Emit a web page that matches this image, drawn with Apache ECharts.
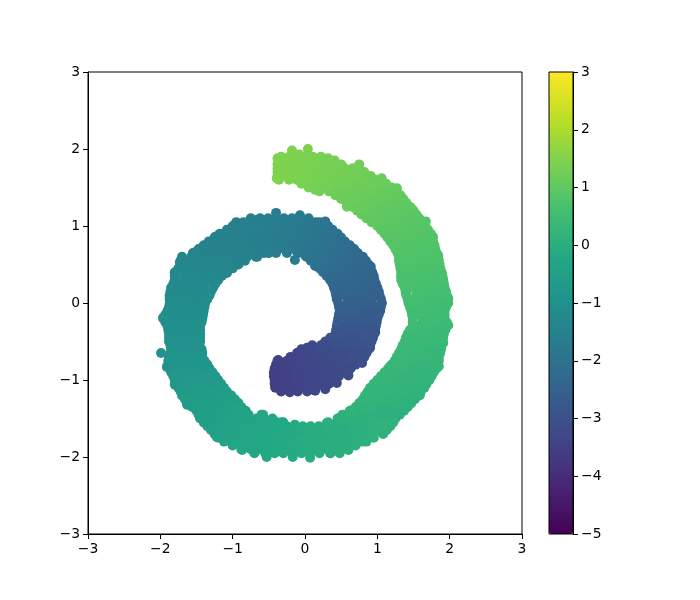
<!DOCTYPE html>
<html><head><meta charset="utf-8">
<style>html,body{margin:0;background:#fff}#c{width:700px;height:600px}</style>
<script src="https://cdn.jsdelivr.net/npm/echarts@6/dist/echarts.min.js"></script></head>
<body><div id="c"></div><script>
const rowY=[1.9,1.8,1.7,1.6,1.5,1.4,1.3,1.2,1.1,1.0,0.9,0.8,0.7,0.6,0.5,0.4,0.3,0.2,0.1,0,-0.1,-0.2,-0.3,-0.4,-0.5,-0.6,-0.7,-0.8,-0.9,-1.0,-1.1,-1.2,-1.3,-1.4,-1.5,-1.6,-1.7,-1.8,-1.9];
const rowX=[
[-.33,-.22,-.11,0,.11,.22],
[-.38,-.27,-.16,-.05,.06,.17,.28,.39,.5],
[-.38,-.28,-.17,-.06,.05,.16,.27,.38,.49,.6,.71,.82],
[-.36,-.22,-.11,0,.11,.22,.33,.44,.55,.66,.77,.88,.99,1.05],
[.05,.16,.27,.38,.49,.6,.71,.82,.93,1.04,1.15,1.2],
[.42,.55,.66,.77,.88,.99,1.1,1.21,1.32],
[.58,.66,.77,.88,.99,1.1,1.21,1.32,1.4],
[.72,.83,.94,1.05,1.16,1.27,1.38,1.5],
[-.75,-.62,-.51,-.4,-.29,-.18,-.07,.05, .85,.94,1.05,1.16,1.27,1.38,1.49,1.58],
[-1,-.89,-.78,-.67,-.56,-.45,-.34,-.23,-.12,-.01,.1,.21,.32, 1,1.1,1.21,1.32,1.43,1.54,1.66],
[-1.18,-1.07,-.96,-.85,-.74,-.63,-.52,-.41,-.3,-.19,-.08,.03,.14,.25,.36,.45, 1.1,1.21,1.32,1.43,1.54,1.65,1.74],
[-1.33,-1.22,-1.11,-1,-.89,-.78,-.67,-.56,-.45,-.34,-.23,-.12,-.01,.1,.21,.32,.43,.55, 1.18,1.27,1.38,1.49,1.6,1.71,1.77],
[-1.47,-1.36,-1.25,-1.14,-1.03,-.92,-.81,-.7,-.59,-.48,-.37,-.26,-.15,-.04,.07,.18,.29,.4,.51,.62,.68, 1.25,1.32,1.43,1.54,1.65,1.76,1.8],
[-1.7,-1.57,-1.46,-1.35,-1.24,-1.13,-1.02,-.91,-.8,-.68, .02,.13,.24,.35,.46,.57,.68,.8, 1.3,1.38,1.49,1.6,1.71,1.84],
[-1.72,-1.62,-1.51,-1.4,-1.29,-1.18,-1.07,-.92, .14,.26,.37,.48,.59,.7,.81,.88, 1.31,1.43,1.54,1.65,1.76,1.86],
[-1.8,-1.69,-1.58,-1.47,-1.36,-1.25,-1.08, .25,.36,.47,.58,.69,.8,.93, 1.33,1.44,1.55,1.66,1.77,1.89],
[-1.8,-1.68,-1.57,-1.46,-1.35,-1.2, .35,.42,.53,.64,.75,.86,.96, 1.33,1.43,1.54,1.65,1.76,1.87,1.91],
[-1.85,-1.74,-1.63,-1.52,-1.41,-1.27, .4,.48,.59,.7,.81,.92,1, 1.38,1.49,1.6,1.71,1.82,1.93],
[-1.87,-1.79,-1.68,-1.57,-1.46,-1.32, .43,.54,.65,.76,.87,.98,1.03, 1.4,1.54,1.65,1.76,1.87,1.96],
[-1.87,-1.75,-1.64,-1.53,-1.38, .46,.59,.7,.81,.92,1.06, 1.43,1.54,1.65,1.76,1.87,1.98],
[-1.9,-1.77,-1.66,-1.55,-1.4, .48,.54,.65,.76,.87,.98,1.04, 1.47,1.58,1.69,1.8,1.93],
[-1.96,-1.84,-1.73,-1.62,-1.51,-1.42, .46,.59,.7,.81,.92,1, 1.49,1.63,1.74,1.85,1.93],
[-1.9,-1.77,-1.66,-1.55,-1.45, .44,.54,.65,.76,.87,.98, 1.49,1.58,1.69,1.8,1.96],
[-1.88,-1.79,-1.68,-1.57,-1.45, .42,.53,.64,.75,.86,.96, 1.42,1.53,1.64,1.75,1.86,1.92],
[-1.88,-1.77,-1.66,-1.55,-1.45, .28,.4,.51,.62,.73,.84,.92, 1.38,1.48,1.59,1.7,1.81,1.9],
[-1.85,-1.74,-1.63,-1.52,-1.43, -.05,.05,.16,.27,.38,.49,.6,.71,.8,.88, 1.33,1.43,1.54,1.65,1.76,1.88],
[-1.88,-1.79,-1.68,-1.57,-1.42, -.2,-.09,.02,.13,.24,.35,.46,.57,.68,.82, 1.27,1.38,1.49,1.6,1.71,1.85],
[-1.88,-1.77,-1.66,-1.55,-1.44,-1.35, -.4,-.3,-.19,-.08,.03,.14,.25,.36,.47,.58,.7, 1.2,1.32,1.43,1.54,1.65,1.76,1.84],
[-1.85,-1.74,-1.63,-1.52,-1.41,-1.28, -.43,-.33,-.22,-.11,0,.11,.22,.33,.44,.55, 1.1,1.21,1.32,1.43,1.54,1.65,1.78],
[-1.8,-1.69,-1.58,-1.47,-1.36,-1.25,-1.2, -.42,-.28,-.17,-.06,.05,.16,.27,.38, 1,1.15,1.26,1.37,1.48,1.59,1.72],
[-1.75,-1.63,-1.52,-1.41,-1.3,-1.19,-1.12, -.41,-.33,-.22,-.11,0,.15, .9,1,1.1,1.21,1.32,1.43,1.54,1.65],
[-1.7,-1.58,-1.47,-1.36,-1.25,-1.14,-1.02, .83,.94,1.05,1.16,1.27,1.38,1.49,1.58],
[-1.63,-1.52,-1.41,-1.3,-1.19,-1.08,-.97,-.92, .75,.88,.99,1.1,1.21,1.32,1.47],
[-1.5,-1.39,-1.28,-1.17,-1.06,-.95,-.82, .62,.72,.83,.94,1.05,1.16,1.27,1.37],
[-1.45,-1.33,-1.22,-1.11,-1,-.89,-.78,-.67,-.56,-.45, .45,.55,.66,.77,.88,.99,1.1,1.25],
[-1.35,-1.24,-1.13,-1.02,-.91,-.8,-.69,-.58,-.47,-.36,-.25,-.14,-.03,.08,.19,.3,.41,.52,.63,.74,.85,.96,1.07,1.18],
[-1.25,-1.14,-1.03,-.92,-.81,-.7,-.59,-.48,-.37,-.26,-.15,-.04,.07,.18,.29,.4,.51,.62,.73,.84,.95,1.08],
[-1.12,-1.02,-.91,-.8,-.69,-.58,-.47,-.36,-.25,-.14,-.03,.08,.19,.3,.41,.52,.63,.74,.85],
[-.88,-.75,-.64,-.53,-.42,-.31,-.2,-.09,.02,.13,.24,.35,.46,.6]
];
const rowC=[
[1.45,1.45,1.42,1.4,1.38,1.36],
[1.46,1.45,1.43,1.42,1.4,1.38,1.36,1.34,1.32],
[1.46,1.45,1.43,1.41,1.39,1.37,1.35,1.33,1.31,1.29,1.27,1.25],
[1.44,1.42,1.4,1.38,1.36,1.34,1.32,1.3,1.28,1.26,1.24,1.22,1.2,1.18],
[1.34,1.32,1.3,1.28,1.26,1.24,1.22,1.2,1.18,1.16,1.14,1.12],
[1.22,1.2,1.18,1.16,1.14,1.12,1.1,1.08,1.06],
[1.16,1.15,1.13,1.11,1.09,1.07,1.05,1.03,1.01],
[1.1,1.08,1.06,1.04,1.02,1,.98,.96],
[-1.55,-1.58,-1.61,-1.64,-1.67,-1.7,-1.73,-1.76, 1.04,1.03,1.01,.99,.97,.95,.93,.91],
[-1.5,-1.52,-1.54,-1.57,-1.6,-1.63,-1.66,-1.69,-1.72,-1.76,-1.8,-1.85,-1.9, .98,.96,.94,.92,.9,.88,.86],
[-1.48,-1.5,-1.52,-1.54,-1.56,-1.59,-1.62,-1.65,-1.68,-1.72,-1.76,-1.8,-1.85,-1.9,-1.96,-2, .92,.9,.88,.86,.84,.83,.82],
[-1.48,-1.5,-1.51,-1.53,-1.55,-1.56,-1.58,-1.61,-1.64,-1.68,-1.72,-1.76,-1.81,-1.86,-1.92,-1.98,-2.04,-2.1, .87,.85,.83,.82,.81,.8,.79],
[-1.52,-1.52,-1.53,-1.54,-1.54,-1.55,-1.55,-1.56,-1.6,-1.64,-1.68,-1.72,-1.77,-1.82,-1.88,-1.95,-2,-2.08,-2.15,-2.2,-2.25, .83,.82,.8,.79,.78,.77,.76],
[-1.36,-1.37,-1.38,-1.39,-1.4,-1.42,-1.44,-1.46,-1.48,-1.5, -1.85,-1.92,-2,-2.06,-2.12,-2.18,-2.24,-2.28, .8,.78,.77,.76,.75,.74],
[-1.32,-1.33,-1.34,-1.35,-1.36,-1.37,-1.38,-1.42, -2,-2.06,-2.12,-2.18,-2.24,-2.28,-2.32,-2.35, .76,.74,.73,.72,.71,.7],
[-1.28,-1.29,-1.3,-1.3,-1.31,-1.32,-1.34, -2.12,-2.18,-2.24,-2.28,-2.33,-2.37,-2.4, .72,.71,.7,.69,.68,.67],
[-1.25,-1.26,-1.26,-1.27,-1.28,-1.29, -2.24,-2.27,-2.31,-2.35,-2.38,-2.42,-2.45, .69,.68,.67,.66,.65,.64,.64],
[-1.22,-1.22,-1.23,-1.23,-1.24,-1.25, -2.34,-2.36,-2.39,-2.42,-2.45,-2.48,-2.5, .65,.64,.63,.62,.61,.6],
[-1.18,-1.18,-1.19,-1.19,-1.2,-1.21, -2.42,-2.44,-2.46,-2.49,-2.51,-2.53,-2.55, .61,.6,.59,.58,.57,.56],
[-1.15,-1.15,-1.16,-1.16,-1.17, -2.5,-2.52,-2.54,-2.56,-2.58,-2.6, .58,.57,.56,.55,.54,.53],
[-1.12,-1.12,-1.13,-1.13,-1.14, -2.58,-2.6,-2.61,-2.63,-2.64,-2.65,-2.66, .54,.53,.52,.51,.5],
[-1.08,-1.08,-1.09,-1.09,-1.1,-1.1, -2.68,-2.7,-2.71,-2.72,-2.73,-2.74, .5,.5,.49,.48,.47],
[-1.05,-1.05,-1.06,-1.06,-1.07, -2.78,-2.78,-2.79,-2.8,-2.8,-2.81, .47,.46,.45,.44,.43],
[-1.02,-1.02,-1.03,-1.03,-1.04, -2.88,-2.88,-2.88,-2.88,-2.88,-2.88, .43,.42,.41,.4,.39,.39],
[-.98,-.98,-.99,-.99,-1, -3.02,-3,-2.99,-2.98,-2.97,-2.96,-2.95, .4,.39,.38,.37,.36,.35],
[-.94,-.94,-.95,-.95,-.96, -3.28,-3.24,-3.2,-3.15,-3.11,-3.08,-3.05,-3.03,-3.01,-3, .37,.36,.35,.34,.33,.32],
[-.9,-.9,-.91,-.91,-.92, -3.4,-3.35,-3.31,-3.26,-3.22,-3.18,-3.15,-3.11,-3.08,-3.05, .34,.33,.32,.31,.3,.29],
[-.85,-.85,-.86,-.86,-.87,-.87, -3.5,-3.46,-3.42,-3.38,-3.33,-3.29,-3.25,-3.22,-3.18,-3.15,-3.12, .31,.3,.29,.28,.27,.26,.25],
[-.8,-.8,-.8,-.8,-.81,-.81, -3.52,-3.48,-3.44,-3.4,-3.36,-3.32,-3.28,-3.24,-3.21,-3.18, .3,.28,.26,.25,.24,.23,.22],
[-.74,-.74,-.73,-.72,-.72,-.72,-.72, -3.52,-3.47,-3.43,-3.39,-3.35,-3.31,-3.28,-3.25, .27,.25,.24,.22,.21,.2,.19],
[-.68,-.67,-.66,-.65,-.64,-.63,-.62, -3.52,-3.49,-3.45,-3.41,-3.37,-3.33, .25,.24,.22,.21,.19,.18,.17,.16],
[-.64,-.62,-.6,-.59,-.58,-.56,-.54, .22,.21,.2,.18,.17,.16,.15,.14],
[-.6,-.58,-.56,-.54,-.52,-.5,-.48,-.46, .19,.18,.17,.16,.14,.13,.12],
[-.56,-.54,-.52,-.49,-.46,-.43,-.4, .15,.14,.13,.12,.11,.1,.09,.08],
[-.55,-.5,-.46,-.43,-.39,-.36,-.33,-.3,-.27,-.25, .1,.09,.08,.07,.06,.05,.04,.03],
[-.5,-.46,-.42,-.38,-.34,-.3,-.27,-.24,-.21,-.18,-.16,-.13,-.1,-.07,-.05,-.03,-.01,.01,.04,.06,.09,.12,.15,.17],
[-.42,-.39,-.36,-.33,-.3,-.27,-.24,-.21,-.18,-.16,-.13,-.1,-.07,-.05,-.03,-.01,.01,.03,.06,.08,.1,.13],
[-.36,-.33,-.3,-.27,-.24,-.21,-.19,-.16,-.14,-.12,-.09,-.06,-.04,-.02,0,.02,.04,.06,.08],
[-.27,-.24,-.22,-.19,-.17,-.15,-.12,-.1,-.07,-.05,-.02,0,.02,.04]
];
const midY=[1.85,1.75,1.65,1.55,1.45,1.35,1.25,1.15,1.05,.95,.85,.75,.65,.55,.45,.35,.25,.15,.05,-.05,-.15,-.25,-.35,-.45,-.55,-.65,-.75,-.85,-.95,-1.05,-1.15,-1.25,-1.35,-1.45,-1.55,-1.65,-1.75,-1.85,-1.95];
const midX=[
[-.36,-.25,-.14,-.03,.08,.19,.3,.41],
[-.38,-.22,-.11,0,.11,.22,.33,.44,.55,.66],
[-.38,-.3,-.19,-.08,.03,.14,.25,.36,.47,.58,.69,.8,.91],
[-.05,.05,.16,.27,.38,.49,.6,.71,.82,.93,1.04,1.12],
[.2,.33,.44,.55,.66,.77,.88,.99,1.1,1.21,1.27],
[.5,.6,.71,.82,.93,1.04,1.15,1.26,1.36],
[.65,.72,.83,.94,1.05,1.16,1.27,1.38,1.45],
[.78,.88,.99,1.1,1.21,1.32,1.43,1.54],
[-.85,-.73,-.62,-.51,-.4,-.29,-.18,-.07,.04,.15,.2, .92,1.05,1.16,1.27,1.38,1.49,1.62],
[-1.08,-.95,-.84,-.73,-.62,-.51,-.4,-.29,-.18,-.07,.04,.15,.26,.38, 1.05,1.16,1.27,1.38,1.49,1.6,1.7],
[-1.25,-1.16,-1.05,-.94,-.83,-.72,-.61,-.5,-.39,-.28,-.17,-.06,.05,.16,.27,.38,.5, 1.14,1.23,1.34,1.45,1.56,1.67,1.76],
[-1.4,-1.28,-1.17,-1.06,-.95,-.84,-.73,-.62,-.51,-.4,-.29,-.18,-.07,.04,.15,.26,.37,.48,.62, 1.22,1.32,1.43,1.54,1.65,1.79],
[-1.55,-1.45,-1.34,-1.23,-1.12,-1.01,-.9,-.79,-.68,-.57,-.5,-.4,-.25,-.1, .05,.16,.27,.38,.49,.6,.73, 1.28,1.37,1.48,1.59,1.7,1.82],
[-1.72,-1.6,-1.49,-1.38,-1.27,-1.16,-1.05,-.94,-.83, .08,.2,.31,.42,.53,.64,.75,.84, 1.3,1.43,1.54,1.65,1.76,1.85],
[-1.75,-1.64,-1.53,-1.42,-1.31,-1.2,-1.09,-1, .2,.31,.42,.53,.64,.75,.9, 1.32,1.38,1.49,1.6,1.71,1.87],
[-1.8,-1.63,-1.52,-1.41,-1.3,-1.15, .3,.42,.53,.64,.75,.86,.95, 1.33,1.49,1.6,1.71,1.82,1.9],
[-1.82,-1.72,-1.61,-1.5,-1.39,-1.24, .38,.48,.59,.7,.81,.92,.98, 1.35,1.49,1.6,1.71,1.82,1.92],
[-1.86,-1.74,-1.63,-1.52,-1.41,-1.3, .42,.54,.65,.76,.87,.98,1.02, 1.39,1.54,1.65,1.76,1.87,1.95],
[-1.87,-1.78,-1.68,-1.57,-1.46,-1.35, .44,.59,.7,.81,.92,1.05, 1.42,1.49,1.6,1.71,1.82,1.93],
[-1.88,-1.8,-1.7,-1.59,-1.48,-1.39, .47,.56,.65,.76,.87,.98,1.05, 1.45,1.54,1.65,1.76,1.87,1.95],
[-1.93,-1.82,-1.71,-1.6,-1.49,-1.41, .47,.59,.7,.81,.92,1.02, 1.48,1.54,1.65,1.76,1.87,1.93],
[-1.93,-1.84,-1.73,-1.62,-1.51,-1.43, .45,.59,.7,.81,.92,.99, 1.49,1.63,1.74,1.85,1.96],
[-1.89,-1.8,-1.73,-1.62,-1.51,-1.45, .43,.59,.7,.81,.92,.97, 1.45,1.58,1.69,1.8,1.91,1.94],
[-1.88,-1.8,-1.72,-1.61,-1.5,-1.45, .35,.47,.58,.69,.8,.91,.94, 1.4,1.48,1.59,1.7,1.81,1.91],
[-1.86,-1.79,-1.68,-1.57,-1.46, .1,.22,.33,.44,.56,.67,.78,.9, 1.35,1.43,1.53,1.64,1.75,1.86,1.89],
[-1.86,-1.77,-1.68,-1.57,-1.46,-1.42, -.1,0,.11,.22,.33,.44,.55,.66,.77,.85, 1.3,1.38,1.49,1.6,1.71,1.78,1.87],
[-1.89,-1.8,-1.72,-1.61,-1.5,-1.39, -.38,-.25,-.14,-.03,.08,.19,.3,.41,.52,.63,.76, 1.24,1.32,1.43,1.54,1.65,1.76,1.85],
[-1.87,-1.78,-1.69,-1.58,-1.47,-1.32, -.42,-.27,-.16,-.05,.06,.17,.28,.39,.5,.63, 1.15,1.27,1.38,1.49,1.6,1.71,1.82],
[-1.82,-1.69,-1.58,-1.47,-1.36,-1.24, -.43,-.33,-.22,-.11,0,.11,.22,.33,.47, 1.05,1.21,1.32,1.43,1.54,1.65,1.75],
[-1.78,-1.63,-1.52,-1.41,-1.3,-1.16, -.42,-.33,-.22,-.11,0,.11,.22,.33, .95,1.1,1.21,1.32,1.43,1.54,1.68],
[-1.72,-1.62,-1.52,-1.41,-1.3,-1.19,-1.08, -.33,-.1,.03, .87,.94,1.05,1.16,1.27,1.38,1.49,1.6],
[-1.66,-1.52,-1.41,-1.3,-1.19,-1.08,-.97, .8,.88,.99,1.1,1.21,1.32,1.43,1.52],
[-1.56,-1.46,-1.35,-1.24,-1.13,-1.02,-.88, .7,.83,.94,1.05,1.16,1.27,1.42],
[-1.47,-1.33,-1.22,-1.11,-1,-.89,-.78,-.6, .52,.66,.77,.88,.99,1.1,1.2,1.31],
[-1.4,-1.27,-1.16,-1.05,-.94,-.83,-.72,-.61,-.5,-.39,-.3, .32,.44,.55,.66,.77,.88,.99,1.1,1.22],
[-1.3,-1.19,-1.08,-.97,-.86,-.75,-.64,-.53,-.42,-.31,-.2,-.09,.02,.13,.24,.35,.46,.57,.68,.79,.9,1.01,1.12],
[-1.2,-1.08,-.97,-.86,-.75,-.64,-.53,-.42,-.31,-.2,-.09,.02,.13,.24,.35,.46,.57,.68,.79,.95],
[-1,-.86,-.75,-.64,-.53,-.42,-.31,-.2,-.09,.02,.13,.24,.35,.46,.57,.7],
[-.7,-.55,-.42,-.3,-.17,-.05,.07,.2,.35,.48]
];
const midC=[
[1.46,1.45,1.43,1.41,1.39,1.37,1.35,1.33],
[1.46,1.44,1.42,1.4,1.38,1.36,1.34,1.32,1.3,1.28],
[1.46,1.45,1.43,1.41,1.39,1.37,1.35,1.33,1.31,1.29,1.27,1.25,1.22],
[1.38,1.36,1.34,1.32,1.3,1.28,1.26,1.24,1.22,1.2,1.18,1.16],
[1.28,1.26,1.24,1.22,1.2,1.18,1.16,1.14,1.12,1.1,1.08],
[1.2,1.18,1.16,1.14,1.12,1.1,1.08,1.06,1.04],
[1.14,1.12,1.1,1.08,1.06,1.04,1.02,1,.98],
[1.07,1.05,1.03,1.01,.99,.97,.95,.93],
[-1.5,-1.55,-1.58,-1.61,-1.64,-1.67,-1.7,-1.74,-1.78,-1.82,-1.84, 1.01,.99,.97,.95,.93,.91,.89],
[-1.48,-1.5,-1.53,-1.56,-1.59,-1.62,-1.65,-1.68,-1.72,-1.76,-1.8,-1.85,-1.9,-1.96, .95,.93,.91,.89,.87,.85,.84],
[-1.47,-1.49,-1.51,-1.53,-1.55,-1.57,-1.6,-1.63,-1.66,-1.7,-1.74,-1.78,-1.83,-1.88,-1.94,-2,-2.06, .9,.88,.86,.85,.83,.82,.8],
[-1.46,-1.48,-1.5,-1.52,-1.54,-1.55,-1.57,-1.6,-1.63,-1.67,-1.71,-1.75,-1.8,-1.85,-1.91,-1.97,-2.04,-2.1,-2.18, .85,.84,.82,.81,.8,.78],
[-1.42,-1.44,-1.45,-1.46,-1.47,-1.48,-1.5,-1.52,-1.54,-1.57,-1.58,-1.62,-1.68,-1.76, -1.88,-1.94,-2,-2.06,-2.12,-2.18,-2.24, .82,.8,.78,.77,.76,.75],
[-1.34,-1.35,-1.36,-1.38,-1.39,-1.4,-1.42,-1.44,-1.46, -1.93,-2,-2.06,-2.12,-2.18,-2.24,-2.28,-2.32, .78,.76,.75,.74,.73,.72],
[-1.3,-1.31,-1.32,-1.33,-1.34,-1.35,-1.36,-1.38, -2.06,-2.12,-2.18,-2.24,-2.3,-2.34,-2.38, .74,.73,.72,.71,.7,.68],
[-1.27,-1.28,-1.28,-1.29,-1.3,-1.31, -2.18,-2.22,-2.27,-2.31,-2.35,-2.39,-2.43, .7,.69,.68,.67,.66,.65],
[-1.24,-1.24,-1.25,-1.25,-1.26,-1.26, -2.28,-2.31,-2.34,-2.37,-2.4,-2.44,-2.46, .67,.66,.65,.64,.63,.62],
[-1.2,-1.2,-1.2,-1.21,-1.21,-1.22, -2.38,-2.4,-2.42,-2.45,-2.48,-2.5,-2.52, .63,.62,.61,.6,.59,.58],
[-1.17,-1.17,-1.17,-1.18,-1.18,-1.19, -2.46,-2.48,-2.5,-2.52,-2.55,-2.57, .6,.59,.58,.57,.56,.55],
[-1.13,-1.13,-1.14,-1.14,-1.15,-1.15, -2.55,-2.56,-2.57,-2.59,-2.6,-2.62,-2.63, .56,.55,.54,.53,.52,.51],
[-1.09,-1.09,-1.1,-1.1,-1.11,-1.11, -2.63,-2.65,-2.67,-2.68,-2.69,-2.7, .52,.51,.5,.49,.48,.48],
[-1.06,-1.06,-1.07,-1.07,-1.08,-1.08, -2.73,-2.75,-2.76,-2.76,-2.77,-2.77, .48,.47,.46,.45,.44],
[-1.03,-1.03,-1.04,-1.04,-1.05,-1.05, -2.83,-2.83,-2.83,-2.83,-2.83,-2.83, .45,.44,.43,.42,.41,.41],
[-1,-1,-1,-1.01,-1.01,-1.01, -2.94,-2.93,-2.92,-2.92,-2.91,-2.91,-2.9, .41,.4,.39,.38,.37,.37],
[-.96,-.96,-.97,-.97,-.98, -3.2,-3.14,-3.09,-3.05,-3.02,-3,-2.98,-2.96, .38,.37,.36,.35,.34,.33,.33],
[-.92,-.92,-.93,-.93,-.94,-.94, -3.35,-3.3,-3.25,-3.2,-3.16,-3.13,-3.09,-3.06,-3.03,-3.02, .35,.34,.33,.32,.31,.3,.3],
[-.88,-.88,-.88,-.89,-.89,-.89, -3.48,-3.44,-3.39,-3.35,-3.3,-3.26,-3.22,-3.18,-3.15,-3.11,-3.08, .33,.32,.31,.3,.28,.27,.26],
[-.83,-.83,-.83,-.84,-.84,-.84, -3.52,-3.46,-3.42,-3.38,-3.34,-3.3,-3.26,-3.22,-3.19,-3.15, .3,.28,.27,.26,.25,.24,.23],
[-.77,-.77,-.77,-.76,-.76,-.76, -3.52,-3.48,-3.44,-3.4,-3.36,-3.32,-3.28,-3.24,-3.2, .28,.26,.25,.23,.22,.21,.2],
[-.71,-.71,-.7,-.7,-.69,-.69, -3.52,-3.49,-3.45,-3.41,-3.37,-3.33,-3.3,-3.27, .26,.24,.22,.2,.19,.18,.17],
[-.65,-.64,-.63,-.62,-.61,-.6,-.59, -3.48,-3.42,-3.37, .24,.22,.21,.2,.18,.17,.16,.15],
[-.6,-.58,-.56,-.54,-.52,-.5,-.48, .2,.19,.18,.17,.15,.14,.13,.12],
[-.58,-.56,-.54,-.52,-.49,-.46,-.42, .16,.15,.14,.13,.12,.11,.1],
[-.57,-.53,-.49,-.46,-.42,-.39,-.35,-.3, .11,.1,.09,.08,.07,.06,.055,.05],
[-.52,-.48,-.44,-.4,-.36,-.32,-.29,-.26,-.23,-.2,-.18, 0,.02,.04,.06,.08,.1,.12,.14,.16],
[-.46,-.42,-.38,-.35,-.32,-.29,-.26,-.23,-.2,-.17,-.15,-.12,-.09,-.06,-.04,-.02,0,.02,.05,.07,.1,.12,.15],
[-.4,-.36,-.33,-.3,-.27,-.24,-.21,-.18,-.16,-.13,-.1,-.07,-.05,-.03,-.01,.01,.03,.05,.07,.1],
[-.3,-.27,-.24,-.22,-.2,-.17,-.15,-.13,-.1,-.07,-.05,-.02,0,.02,.03,.05],
[-.22,-.2,-.17,-.15,-.12,-.09,-.06,-.03,0,.03]
];
const edgeX=[-.18,.04,-.38,-.39,-.08,.32,.75,1.06,1.27,1.47,1.67,1.77,1.84,1.91,1.98,1.98,1.91,1.85,1.59,1.13,.8,.6,.35,.07,-.17,-.53,-.87,-1.22,-1.45,-1.63,
.14,.44,.58,.79,.94,1.18,1.31,1.33,1.4,1.49,1.4,1.18,.86,.66,.48,.3,.07,
-1.99,-1.91,-1.8,-1.41,-1.29,-1.13,-1.01,-.83,-.58,-.32,-.14,
-1.96,-1.87,-1.8,-1.73,-1.52,-1.24,-.95,-.66,-.4,-.07,-1.42,-1.34,-1.23,-1.08,-.86,-.66,-.51,-.14,0,
.28,.53,.73,.91,1.06,.14,.35,.48,.14,.28,.44,.6,.79,.9,.97,.44,.1,-.37,-.11,.03,-.41,-.21];
const edgeY=[1.98,2,1.88,1.62,1.93,1.88,1.8,1.62,1.49,1.23,1.06,.86,.62,.3,.06,-.29,-.52,-.82,-1.19,-1.65,-1.8,-1.91,-1.95,-2.01,-2,-2,-1.91,-1.74,-1.48,-1.32,
1.47,1.4,1.25,1.21,1.05,.83,.53,.34,.13,-.18,-.45,-.82,-1.17,-1.39,-1.49,-1.56,-1.61,
-.65,-.83,-1.06,-.74,-.91,-1.1,-1.26,-1.42,-1.45,-1.55,-1.58,
-.19,.08,.39,.53,.66,.86,1.05,1.08,1.17,1.14,-.19,.08,.27,.39,.56,.6,.65,.56,.62,
1.06,.79,.62,.47,0,.48,.3,-.13,-1.14,-1.12,-1.04,-.94,-.78,-.58,-.38,-.39,-.57,-.74,-.65,-.58,-1.09,-1.16];
const edgeC=[1.44,1.4,1.46,1.46,1.42,1.35,1.27,1.17,1.08,.98,.88,.8,.74,.64,.55,.44,.36,.26,.14,.16,.07,.04,.01,-.06,-.12,-.2,-.27,-.4,-.55,-.65,
1.3,1.24,1.16,1.1,1,.86,.74,.68,.62,.5,.4,.3,.2,.15,.09,.03,-.05,
-.97,-.92,-.8,-.84,-.7,-.58,-.47,-.37,-.28,-.18,-.13,
-1.08,-1.18,-1.28,-1.33,-1.42,-1.47,-1.5,-1.57,-1.65,-1.74,-1.04,-1.16,-1.26,-1.33,-1.45,-1.52,-1.58,-1.75,-1.85,
-1.88,-2.08,-2.24,-2.36,-2.6,-1.98,-2.22,-2.6,-3.33,-3.28,-3.23,-3.16,-3.06,-2.98,-2.87,-2.88,-3.22,-3.48,-3.36,-3.28,-3.52,-3.45];
const axisTicks=[-3,-2,-1,0,1,2,3];
const colorbarRange=[-5,3];
const viridis=['#440154','#482475','#414487','#355f8d','#2a788e','#21918c','#22a884','#44bf70','#7ad151','#bddf26','#fde725'];

const pts=[];
rowY.forEach((y,i)=>rowX[i].forEach((x,j)=>pts.push([x,y,rowC[i][j]])));
midY.forEach((y,i)=>midX[i].forEach((x,j)=>pts.push([x,y,midC[i][j]])));
edgeX.forEach((x,i)=>pts.push([x,edgeY[i],edgeC[i]]));

const font={fontFamily:'DejaVu Sans',fontSize:13.9,color:'#000'};
const minus=v=>String(v).replace('-','\u2212');
const line={show:true,onZero:false,lineStyle:{color:'#000',width:1}};
const tick={show:true,length:5,inside:false,lineStyle:{color:'#000',width:1}};
const chart=echarts.init(document.getElementById('c'),null,{renderer:'canvas'});
chart.setOption({
  animation:false,backgroundColor:'#fff',
  grid:[{left:88,top:72,width:434,height:462,show:true,borderColor:'#000',borderWidth:1,backgroundColor:'transparent'},
        {left:549,top:72,width:24,height:462,show:true,z:5,borderColor:'#000',borderWidth:1,backgroundColor:'transparent'}],
  xAxis:[{type:'value',gridIndex:0,min:axisTicks[0],max:axisTicks[6],interval:1,splitLine:{show:false},axisLine:line,axisTick:tick,axisLabel:{...font,margin:8,formatter:minus}},
         {type:'value',gridIndex:1,show:false,min:0,max:1}],
  yAxis:[{type:'value',gridIndex:0,min:axisTicks[0],max:axisTicks[6],interval:1,splitLine:{show:false},axisLine:line,axisTick:tick,axisLabel:{...font,margin:8,formatter:minus}},
         {type:'value',gridIndex:1,position:'right',min:colorbarRange[0],max:colorbarRange[1],interval:1,splitLine:{show:false},axisLine:line,axisTick:tick,axisLabel:{...font,margin:8,formatter:minus},z:6}],
  visualMap:{type:'continuous',seriesIndex:0,dimension:2,min:colorbarRange[0],max:colorbarRange[1],inRange:{color:viridis},
    left:549,top:72,itemWidth:24,itemHeight:462,padding:0,text:null,showLabel:false,calculable:false,hoverLink:false,z:2},
  series:[{type:'scatter',xAxisIndex:0,yAxisIndex:0,symbol:'circle',symbolSize:10,data:pts,itemStyle:{opacity:1},silent:true}]
});
</script></body></html>
